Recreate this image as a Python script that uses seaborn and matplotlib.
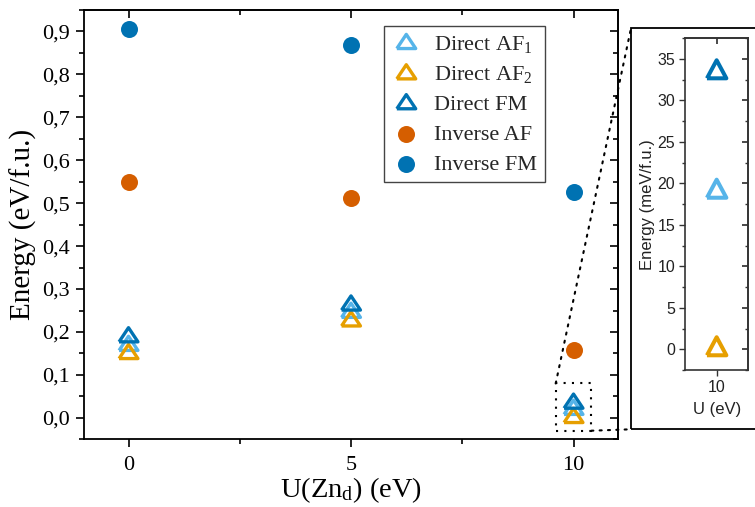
import numpy as np
import pandas as pd
import matplotlib
matplotlib.use("Agg")
import matplotlib.pyplot as plt
import seaborn as sns
from matplotlib.patches import Rectangle, ConnectionPatch
from matplotlib.ticker import MultipleLocator

# Hubbard U on Zn d states (eV)
u_values = [0, 5, 10]

# Energies relative to the ground state (eV per formula unit)
direct_af1 = [0.168, 0.245, 0.019]
direct_af2 = [0.149, 0.225, 0.0]
direct_fm = [0.188, 0.262, 0.0334]
inverse_af = [0.549, 0.511, 0.157]
inverse_fm = [0.905, 0.869, 0.526]

y_ticks = [0.0, 0.1, 0.2, 0.3, 0.4, 0.5, 0.6, 0.7, 0.8, 0.9]
y_tick_labels = ["0,0", "0,1", "0,2", "0,3", "0,4", "0,5", "0,6", "0,7", "0,8", "0,9"]
x_ticks = [0, 5, 10]

inset_u = [10]
inset_y_ticks = [0, 5, 10, 15, 20, 25, 30, 35]

c_af1 = "#56B4E9"
c_af2 = "#E69F00"
c_fm = "#0072B2"
c_iaf = "#D55E00"
c_ifm = "#0072B2"

sns.set_theme(style="ticks")
plt.rcParams["font.family"] = ["Liberation Serif", "DejaVu Serif"]
plt.rcParams["mathtext.fontset"] = "custom"
plt.rcParams["mathtext.rm"] = "Liberation Serif"
plt.rcParams["mathtext.it"] = "Liberation Serif:italic"

# open triangles centred on their centroid
tri_main = [(-1.0, -0.5), (1.0, -0.5), (0.0, 1.0), (-1.0, -0.5)]
k = 1.24
tri_inset = [(-1.0, -0.5 * k), (1.0, -0.5 * k), (0.0, k), (-1.0, -0.5 * k)]

W, H = 755, 507
fig = plt.figure(figsize=(W / 100, H / 100), dpi=100)
ax = fig.add_axes([84 / W, 1 - 439.3 / H, (618 - 84) / W, (439.3 - 10) / H])

def frame(a, lw, col):
    for s in a.spines.values():
        s.set_visible(True)
        s.set_linewidth(lw)
        s.set_color(col)

series = [
    ("Direct AF$_1$", direct_af1, c_af1, True),
    ("Direct AF$_2$", direct_af2, c_af2, True),
    ("Direct FM", direct_fm, c_fm, True),
    ("Inverse AF", inverse_af, c_iaf, False),
    ("Inverse FM", inverse_fm, c_ifm, False),
]
for label, vals, col, hollow in series:
    df = pd.DataFrame({"U": u_values, "E": vals})
    if hollow:
        sns.scatterplot(data=df, x="U", y="E", ax=ax, marker=tri_main, s=185,
                        facecolor="none", edgecolor=col, linewidth=2.4,
                        label=label, zorder=3)
    else:
        sns.scatterplot(data=df, x="U", y="E", ax=ax, marker="o", s=150,
                        color=col, linewidth=0, label=label, zorder=3)

ax.set_xlim(-1, 11)
ax.set_ylim(-0.05, 0.95)
ax.set_xticks(x_ticks)
ax.set_xticklabels([str(v) for v in x_ticks])
ax.set_yticks(y_ticks)
ax.set_yticklabels(y_tick_labels)
ax.xaxis.set_minor_locator(MultipleLocator(2.5))
ax.yaxis.set_minor_locator(MultipleLocator(0.05))
frame(ax, 1.3, "black")
ax.tick_params(which="both", direction="out", color="black", width=1.2,
               labelsize=16, top=False, right=False, pad=4, labelcolor="black")
ax.tick_params(axis="x", which="major", pad=6)
ax.tick_params(which="major", length=6)
ax.tick_params(which="minor", length=3.5)
ax.set_xlabel("U(Zn$_\\mathrm{d}$) (eV)", fontsize=20.5, labelpad=0, color="black")
ax.set_ylabel("Energy (eV/f.u.)", fontsize=21, labelpad=4, color="black")

# inward ticks on top and right edges
ax_top = ax.secondary_xaxis("top")
ax_top.set_xticks(x_ticks)
ax_top.xaxis.set_minor_locator(MultipleLocator(2.5))
ax_top.tick_params(which="both", direction="in", labeltop=False, width=1.2, color="black")
ax_top.tick_params(which="major", length=6)
ax_top.tick_params(which="minor", length=3.5)
ax_right = ax.secondary_yaxis("right")
ax_right.set_yticks(y_ticks)
ax_right.yaxis.set_minor_locator(MultipleLocator(0.05))
ax_right.tick_params(which="both", direction="in", labelright=False, width=1.2, color="black")
ax_right.tick_params(which="major", length=6)
ax_right.tick_params(which="minor", length=3.5)
for a in (ax_top, ax_right):
    for s in a.spines.values():
        s.set_linewidth(1.3)

leg = ax.legend(loc="upper right", bbox_to_anchor=(0.863, 0.963), borderaxespad=0,
                fontsize=16, frameon=True, fancybox=False, edgecolor="#444444",
                handlelength=1.3, handletextpad=0.6, borderpad=0.35, labelspacing=0.42,
                framealpha=1)
leg.get_frame().set_linewidth(1.0)

# zoom region around U = 10
zoom_box = Rectangle((9.6, -0.03), 0.8, 0.11, fill=False, edgecolor="black",
                     linestyle=(0, (1, 3)), linewidth=1.5, zorder=2)
ax.add_patch(zoom_box)

# inset panel frame
fx0, fy_top, fy_bot = 631 / W, 1 - 28.3 / H, 1 - 429.3 / H
fig.add_artist(Rectangle((fx0, fy_bot), 1.2 - fx0, fy_top - fy_bot, fill=False,
                         edgecolor="black", linewidth=1.3, transform=fig.transFigure))
for xy_data, xy_fig in [((9.6, 0.08), (fx0, fy_top)), ((10.4, -0.03), (fx0, fy_bot))]:
    con = ConnectionPatch(xyA=xy_data, coordsA="data", axesA=ax,
                          xyB=xy_fig, coordsB="figure fraction",
                          linestyle=(0, (1, 3)), linewidth=1.5, color="black")
    fig.add_artist(con)

# inset in meV
axi = fig.add_axes([685 / W, 1 - 370 / H, (748.3 - 685) / W, (370 - 38.3) / H])
for label, vals, col in [("AF1", direct_af1, c_af1), ("AF2", direct_af2, c_af2),
                         ("FM", direct_fm, c_fm)]:
    dfi = pd.DataFrame({"U": inset_u, "E": [vals[2] * 1000]})
    sns.scatterplot(data=dfi, x="U", y="E", ax=axi, marker=tri_inset, s=300,
                    facecolor="none", edgecolor=col, linewidth=2.9, zorder=3)
axi.set_xlim(9.5, 10.5)
axi.set_ylim(-2.5, 37.5)
axi.set_xticks([10])
axi.set_yticks(inset_y_ticks)
axi.yaxis.set_minor_locator(MultipleLocator(2.5))
frame(axi, 1.2, "#333333")
axi.tick_params(which="both", direction="out", labelsize=11.5, top=False, right=False,
                color="#333333", labelcolor="#222222", width=1.0, pad=3)
axi.tick_params(which="major", length=4)
axi.tick_params(which="minor", length=2)
for t in axi.get_xticklabels() + axi.get_yticklabels():
    t.set_fontfamily("Liberation Sans")
axi.set_xlabel("U (eV)", fontsize=12, fontfamily="Liberation Sans", labelpad=5, color="#222222")
axi.set_ylabel("Energy (meV/f.u.)", fontsize=12, fontfamily="Liberation Sans", labelpad=2,
               color="#222222")
axi_top = axi.secondary_xaxis("top")
axi_top.set_xticks([10])
axi_top.tick_params(which="both", direction="in", labeltop=False, length=4, color="#333333")
axi_right = axi.secondary_yaxis("right")
axi_right.set_yticks(inset_y_ticks)
axi_right.yaxis.set_minor_locator(MultipleLocator(2.5))
axi_right.tick_params(which="both", direction="in", labelright=False, color="#333333")
axi_right.tick_params(which="major", length=4)
axi_right.tick_params(which="minor", length=2)
for a in (axi_top, axi_right):
    for s in a.spines.values():
        s.set_linewidth(1.2)
        s.set_color("#333333")

fig.savefig("out.png", dpi=100)
